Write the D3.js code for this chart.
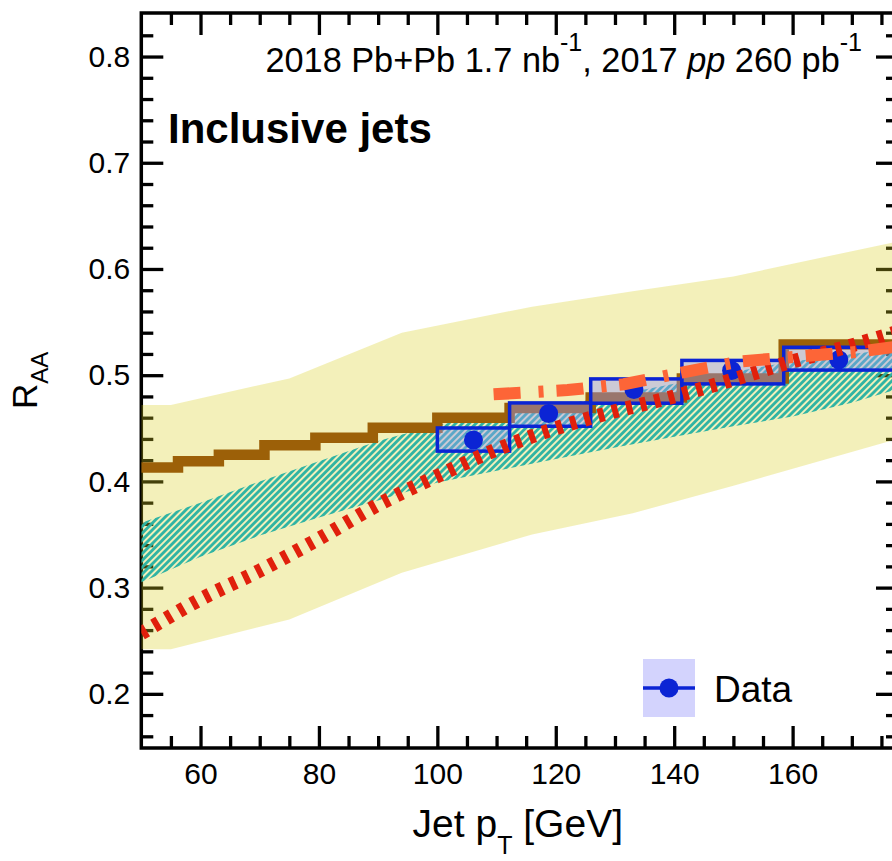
<!DOCTYPE html>
<html>
<head>
<meta charset="utf-8">
<script src="https://cdn.jsdelivr.net/npm/d3@7"></script>
<style>
  body { margin: 0; background: #fff; }
  svg { display: block; font-family: "Liberation Sans", Arial, Helvetica, sans-serif; }
</style>
</head>
<body>
<svg id="chart" width="892" height="861"></svg>
<script>
// pT bin edges and the step-like model (brown)
const binEdges = [50, 56.2, 63.1, 70.8, 79.4, 89.1, 100, 112.2, 125.9, 141.3, 158.5, 177.8]
const brownVals = [0.413, 0.419, 0.425, 0.434, 0.441, 0.4505, 0.460, 0.469, 0.479, 0.497, 0.529]

// yellow band
const yellowX = [50, 55, 75, 94, 116, 133, 150, 177.8]
const yellowHi = [0.472, 0.472, 0.497, 0.540, 0.5645, 0.579, 0.593, 0.626]
const yellowLo = [0.242, 0.242, 0.270, 0.314, 0.350, 0.370, 0.396, 0.440]

// teal hatched band
const tealX = [50, 60, 70, 80, 90, 100, 110, 120, 130, 140, 150, 160, 170, 177.8]
const tealHi = [0.361, 0.380, 0.400, 0.419, 0.438, 0.453, 0.463, 0.471, 0.481, 0.492, 0.503, 0.513, 0.520, 0.525]
const tealLo = [0.305, 0.329, 0.349, 0.366, 0.382, 0.399, 0.410, 0.421, 0.432, 0.442, 0.452, 0.461, 0.474, 0.487]

// red dotted curve
const redX = [50, 60, 70, 80, 90, 100, 110, 120, 130, 140, 150, 160, 170, 177.8]
const redY = [0.257, 0.289, 0.316, 0.346, 0.378, 0.405, 0.430, 0.450, 0.466, 0.480, 0.496, 0.513, 0.528, 0.541]

// orange dash-dot curve
const orangeX = [109.5, 122, 131.5, 141.3, 151.2, 161, 171, 177.8]
const orangeY = [0.482, 0.486, 0.4915, 0.5025, 0.513, 0.5175, 0.522, 0.527]

// data
const dataLo = [100, 112.2, 125.9, 141.3, 158.5]
const dataHi = [112.2, 125.9, 141.3, 158.5, 177.8]
const dataX = [106.1, 118.8, 133.2, 149.7, 167.8]
const dataY = [0.439, 0.464, 0.4865, 0.5045, 0.5146]
const sysLo = [0.4285, 0.4519, 0.4736, 0.4918, 0.5048]
const sysHi = [0.4503, 0.4739, 0.4965, 0.5139, 0.5263]

const xMajor = [60, 80, 100, 120, 140, 160]
const xMinor = d3.range(55, 177, 5)
const yMajor = [0.2, 0.3, 0.4, 0.5, 0.6, 0.7, 0.8]
const yMinor = d3.range(8, 42).map(k => k / 50)

const yellow = 'rgb(215,208,32)'
const teal = '#2db3a3'
const brown = '#9c6008'
const red = '#e0200c'
const orange = '#fd6537'
const blue = '#0b24d4'

const svg = d3.select('#chart')
const x = d3.scaleLinear().domain([50, 177.8]).range([141.3, 898])
const y = d3.scaleLinear().domain([0.149, 0.841]).range([748, 13])
const [x0, x1] = x.range()
const [y0, y1] = y.range()

const defs = svg.append('defs')
defs.append('clipPath').attr('id', 'clip')
  .append('rect').attr('x', x0).attr('y', y1).attr('width', x1 - x0).attr('height', y0 - y1)
defs.append('pattern').attr('id', 'hatch')
  .attr('patternUnits', 'userSpaceOnUse')
  .attr('width', 4.8).attr('height', 4.8)
  .attr('patternTransform', 'rotate(45)')
  .append('line')
  .attr('x1', 2.4).attr('y1', 0).attr('x2', 2.4).attr('y2', 4.8)
  .attr('stroke', teal).attr('stroke-width', 2.8)

// axes first, the bands go over them
let styleAxis = (g, size) => {
  g.select('.domain').remove()
  g.selectAll('.tick line').attr('stroke', '#000').attr('stroke-width', 3.3)
  g.attr('font-size', size).attr('font-family', null)
  g.selectAll('.tick text').attr('fill', '#000')
}
let notMajor = v => v * 10 % 1 > 0.01 && v * 10 % 1 < 0.99

svg.append('g').attr('transform', `translate(0,${y0})`)
  .call(d3.axisBottom(x).tickValues(xMajor).tickSize(-22).tickPadding(15).tickFormat(d3.format('d')))
  .call(g => styleAxis(g, 30))
svg.append('g').attr('transform', `translate(0,${y0})`)
  .call(d3.axisBottom(x).tickValues(xMinor.filter(v => !xMajor.includes(v))).tickSize(-12).tickFormat(''))
  .call(g => styleAxis(g, 30))
svg.append('g').attr('transform', `translate(0,${y1})`)
  .call(d3.axisTop(x).tickValues(xMajor).tickSize(-22).tickFormat(''))
  .call(g => styleAxis(g, 30))
svg.append('g').attr('transform', `translate(0,${y1})`)
  .call(d3.axisTop(x).tickValues(xMinor.filter(v => !xMajor.includes(v))).tickSize(-12).tickFormat(''))
  .call(g => styleAxis(g, 30))

svg.append('g').attr('transform', `translate(${x0},0)`)
  .call(d3.axisLeft(y).tickValues(yMajor).tickSize(-22).tickPadding(11).tickFormat(d3.format('.1f')))
  .call(g => styleAxis(g, 30))
svg.append('g').attr('transform', `translate(${x0},0)`)
  .call(d3.axisLeft(y).tickValues(yMinor.filter(notMajor)).tickSize(-12).tickFormat(''))
  .call(g => styleAxis(g, 30))
svg.append('g').attr('transform', `translate(${x1},0)`)
  .call(d3.axisRight(y).tickValues(yMajor).tickSize(-22).tickFormat(''))
  .call(g => styleAxis(g, 30))
svg.append('g').attr('transform', `translate(${x1},0)`)
  .call(d3.axisRight(y).tickValues(yMinor.filter(notMajor)).tickSize(-12).tickFormat(''))
  .call(g => styleAxis(g, 30))

svg.append('rect')
  .attr('x', x0).attr('y', y1).attr('width', x1 - x0).attr('height', y0 - y1)
  .attr('fill', 'none').attr('stroke', '#000').attr('stroke-width', 3.5)

const plot = svg.append('g').attr('clip-path', 'url(#clip)')

let area = d3.area().x(d => x(d[0])).y0(d => y(d[1])).y1(d => y(d[2]))

plot.append('path')
  .datum(yellowX.map((v, i) => [v, yellowLo[i], yellowHi[i]]))
  .attr('d', area)
  .attr('fill', yellow).attr('fill-opacity', 0.31)

plot.append('path')
  .datum(tealX.map((v, i) => [v, tealLo[i], tealHi[i]]))
  .attr('d', area)
  .attr('fill', 'url(#hatch)')

let stepPts = binEdges.map((e, i) => [e, brownVals[Math.min(i, brownVals.length - 1)]])
plot.append('path')
  .datum(stepPts)
  .attr('d', d3.line().x(d => x(d[0])).y(d => y(d[1])).curve(d3.curveStepAfter))
  .attr('fill', 'none').attr('stroke', brown).attr('stroke-width', 10.5)

// data systematics boxes
plot.selectAll('rect.sys')
  .data(dataX)
  .enter()
  .append('rect')
  .attr('class', 'sys')
  .attr('x', (d, i) => x(dataLo[i]))
  .attr('width', (d, i) => x(dataHi[i]) - x(dataLo[i]))
  .attr('y', (d, i) => y(sysHi[i]))
  .attr('height', (d, i) => y(sysLo[i]) - y(sysHi[i]))
  .attr('fill', 'rgba(150,150,250,0.42)')
  .attr('stroke', blue).attr('stroke-width', 3.5)

plot.selectAll('circle.pt')
  .data(dataX)
  .enter()
  .append('circle')
  .attr('class', 'pt')
  .attr('cx', d => x(d))
  .attr('cy', (d, i) => y(dataY[i]))
  .attr('r', 9.5)
  .attr('fill', blue)

plot.append('path')
  .datum(redX.map((v, i) => [v, redY[i]]))
  .attr('d', d3.line().x(d => x(d[0])).y(d => y(d[1])).curve(d3.curveMonotoneX))
  .attr('fill', 'none').attr('stroke', red).attr('stroke-width', 14)
  .attr('stroke-dasharray', '6,8.5')

plot.append('path')
  .datum(orangeX.map((v, i) => [v, orangeY[i]]))
  .attr('d', d3.line().x(d => x(d[0])).y(d => y(d[1])))
  .attr('fill', 'none').attr('stroke', orange).attr('stroke-width', 12)
  .attr('stroke-dasharray', '27,18,5,13')

// texts
let hdr = svg.append('text').attr('x', 862).attr('y', 72).attr('text-anchor', 'end').attr('font-size', 34.3)
hdr.append('tspan').text('2018 Pb+Pb 1.7 nb')
hdr.append('tspan').attr('font-size', 25).attr('dy', -21).text('-1')
hdr.append('tspan').attr('dy', 21).text(', 2017 ')
hdr.append('tspan').attr('font-style', 'italic').text('pp')
hdr.append('tspan').text(' 260 pb')
hdr.append('tspan').attr('font-size', 25).attr('dy', -21).text('-1')

svg.append('text').attr('x', 168).attr('y', 143)
  .attr('font-size', 42).attr('font-weight', 'bold')
  .text('Inclusive jets')

let xt = svg.append('text').attr('x', 623).attr('y', 837).attr('text-anchor', 'end').attr('font-size', 39)
xt.append('tspan').text('Jet p')
xt.append('tspan').attr('font-size', 25).attr('dy', 17).text('T')
xt.append('tspan').attr('dy', -17).text(' [GeV]')

let yt = svg.append('text').attr('transform', 'translate(37,409) rotate(-90)').attr('font-size', 35)
yt.append('tspan').text('R')
yt.append('tspan').attr('font-size', 24).attr('dy', 11).text('AA')

// legend
const leg = svg.append('g')
leg.append('rect').attr('x', 643).attr('y', 659).attr('width', 52).attr('height', 58)
  .attr('fill', 'rgba(150,150,250,0.42)')
leg.append('line').attr('x1', 643).attr('x2', 695).attr('y1', 688).attr('y2', 688)
  .attr('stroke', blue).attr('stroke-width', 3.5)
leg.append('circle').attr('cx', 669).attr('cy', 688).attr('r', 9.5).attr('fill', blue)
leg.append('text').attr('x', 714).attr('y', 702).attr('font-size', 37).text('Data')
</script>
</body>
</html>
